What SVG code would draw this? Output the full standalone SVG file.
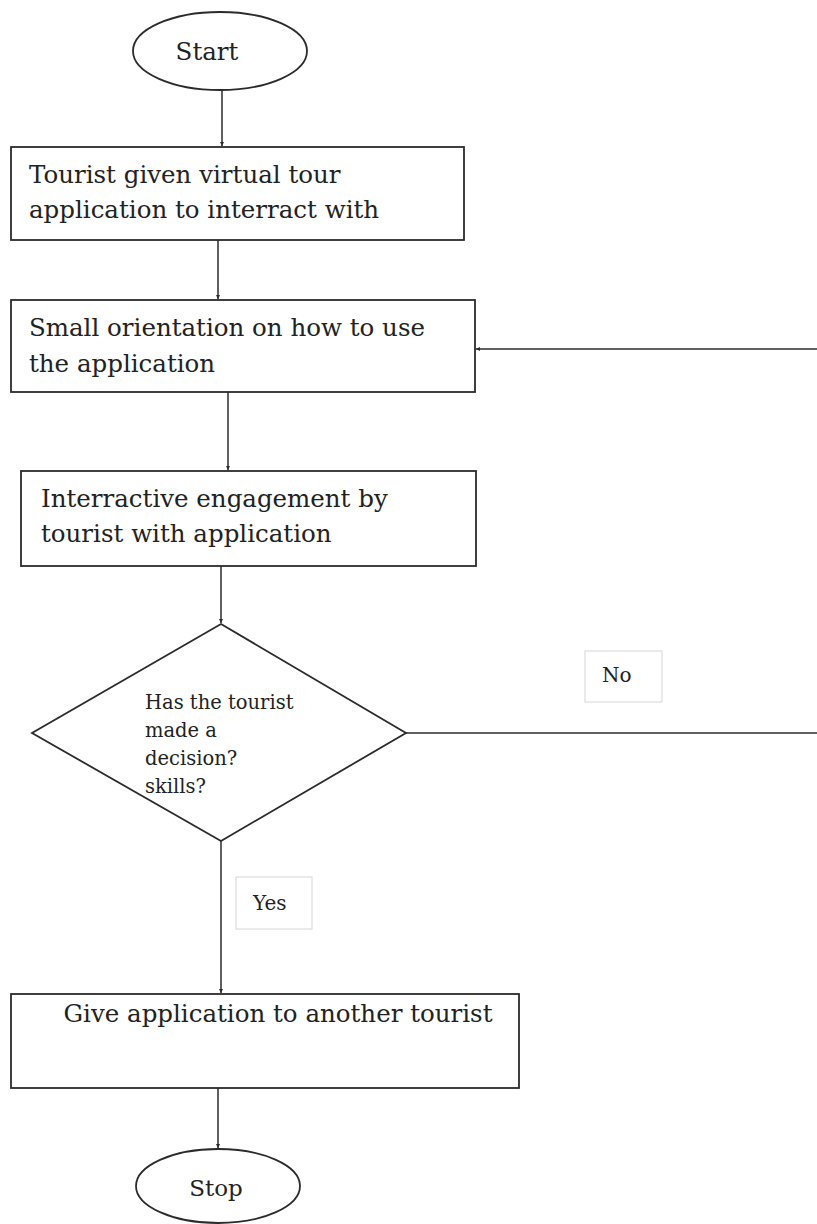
<svg xmlns="http://www.w3.org/2000/svg" width="817" height="1224" viewBox="0 0 817 1224">
<style>
  .shape { fill: #ffffff; stroke: #2b2b2b; stroke-width: 1.8; }
  .label { fill: #ffffff; stroke: #d6d6d6; stroke-width: 1; }
  .conn { fill: none; stroke: #2b2b2b; stroke-width: 1.5; marker-end: url(#arrow); }
  .plain { fill: none; stroke: #2b2b2b; stroke-width: 1.5; }
  .t { font-family: "DejaVu Serif", "Liberation Serif", serif; font-size: 24.5px; fill: #222222; }
  .ts { font-family: "DejaVu Serif", "Liberation Serif", serif; font-size: 19.5px; fill: #222222; }
  .tl { font-family: "DejaVu Serif", "Liberation Serif", serif; font-size: 20px; fill: #222222; }
</style>
<defs>
  <marker id="arrow" viewBox="0 0 6 6" refX="6" refY="3" markerWidth="4" markerHeight="4" orient="auto" markerUnits="userSpaceOnUse">
    <path d="M0,0 L6,3 L0,6 z" fill="#2b2b2b"/>
  </marker>
</defs>
<rect x="0" y="0" width="817" height="1224" fill="#ffffff"/>

<g id="connectors">
  <line class="conn" x1="222" y1="90" x2="222" y2="146"/>
  <line class="conn" x1="218" y1="240" x2="218" y2="299"/>
  <line class="conn" x1="817" y1="349" x2="476" y2="349"/>
  <line class="conn" x1="228" y1="392" x2="228" y2="470"/>
  <line class="conn" x1="221" y1="566" x2="221" y2="623"/>
  <line class="plain" x1="406" y1="733" x2="817" y2="733"/>
  <line class="conn" x1="221" y1="841" x2="221" y2="993"/>
  <line class="conn" x1="218" y1="1088" x2="218" y2="1148"/>
</g>

<g id="start">
  <ellipse class="shape" cx="220" cy="51" rx="87" ry="39"/>
  <text class="t" x="207" y="60" text-anchor="middle">Start</text>
</g>

<g id="box1">
  <rect class="shape" x="11" y="147" width="453" height="93"/>
  <text class="t" x="29" y="183">Tourist given virtual tour</text>
  <text class="t" x="29" y="218">application to interract with</text>
</g>

<g id="box2">
  <rect class="shape" x="11" y="300" width="464" height="92"/>
  <text class="t" x="29" y="336">Small orientation on how to use</text>
  <text class="t" x="29" y="372">the application</text>
</g>

<g id="box3">
  <rect class="shape" x="21" y="471" width="455" height="95"/>
  <text class="t" x="41" y="507">Interractive engagement by</text>
  <text class="t" x="41" y="542">tourist with application</text>
</g>

<g id="decision">
  <polygon class="shape" points="221,624 406,733 221,841 32,733"/>
  <text class="ts" x="145" y="709">Has the tourist</text>
  <text class="ts" x="145" y="737">made a</text>
  <text class="ts" x="145" y="765">decision?</text>
  <text class="ts" x="145" y="793">skills?</text>
</g>

<g id="label-no">
  <rect class="label" x="585" y="651" width="77" height="51"/>
  <text class="tl" x="602" y="682">No</text>
</g>

<g id="label-yes">
  <rect class="label" x="236" y="877" width="76" height="52"/>
  <text class="tl" x="253" y="910">Yes</text>
</g>

<g id="box4">
  <rect class="shape" x="11" y="994" width="508" height="94"/>
  <text class="t" x="278" y="1022" text-anchor="middle">Give application to another tourist</text>
</g>

<g id="stop">
  <ellipse class="shape" cx="218" cy="1186" rx="82" ry="37"/>
  <text class="t" x="216" y="1196" text-anchor="middle" style="font-size:23px">Stop</text>
</g>
</svg>
